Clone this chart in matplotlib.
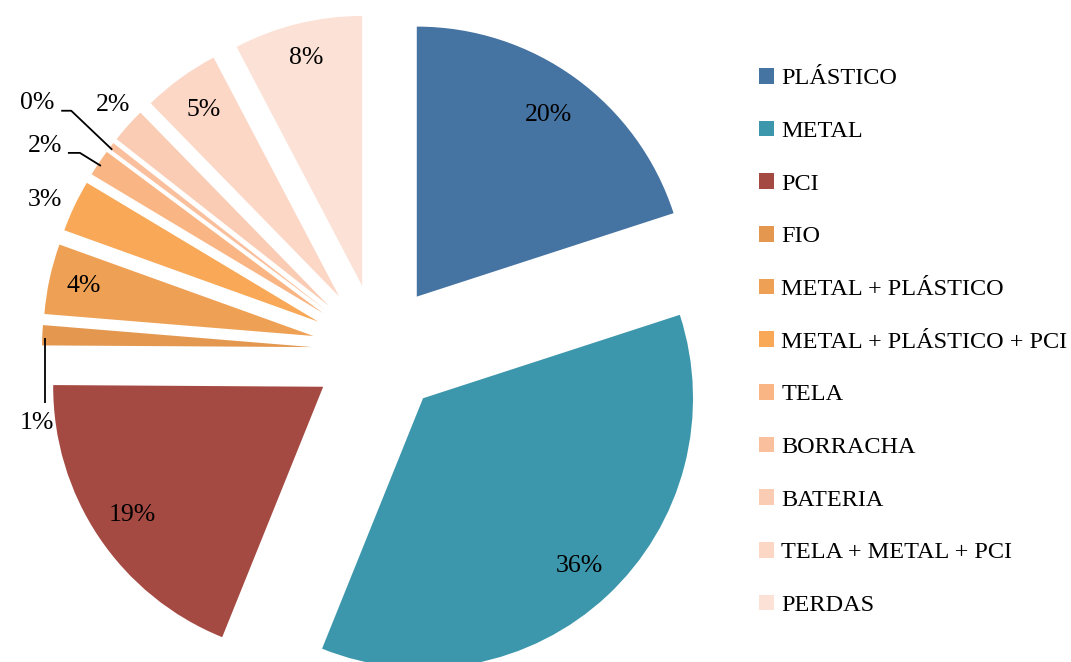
import numpy as np
import matplotlib.pyplot as plt

plt.rcParams['font.family'] = ['Liberation Serif', 'DejaVu Serif']

# data (share of each material, in %)
categories = ['PLÁSTICO', 'METAL', 'PCI', 'FIO', 'METAL + PLÁSTICO',
              'METAL + PLÁSTICO + PCI', 'TELA', 'BORRACHA', 'BATERIA',
              'TELA + METAL + PCI', 'PERDAS']
shares = [20.0, 36.1, 19.0, 1.2, 4.2, 3.1, 1.6, 0.4, 2.1, 4.6, 7.7]
pct_labels = ['20%', '36%', '19%', '1%', '4%', '3%', '2%', '0%', '2%', '5%', '8%']
colors = ['#4573A2', '#3D97AC', '#A54A43', '#E3974F', '#EEA054', '#F8A857',
          '#F9B684', '#FAC09D', '#FACCB4', '#FCD7C6', '#FCE2D6']

# label placement: inside -> pct distance, outside -> text offset from the
# wedge's outer mid point (px, y down) plus optional leader line points
inside = {0: 0.83, 1: 0.85, 2: 0.85, 4: 0.87, 9: 0.855, 10: 0.87}
outside = {
    3: ((-5, 88), [(3, 3), (3, 68)]),
    5: ((-29, -6), None),
    6: ((-54, -17), [(2, 3), (-19, -10), (-31, -10)]),
    7: ((-74, -43), [(1, 4), (-40, -35), (-50, -35)]),
    8: ((-15, -20), None),
}

W, H = 1071, 662
fig = plt.figure(figsize=(W / 100, H / 100), dpi=100)
ax = fig.add_axes([0, 0, 1, 1])

R = 270
center = (378, H - 350)
wedges, _ = ax.pie(shares, colors=colors, startangle=90, counterclock=False,
                   radius=R, center=center, explode=[66] * len(shares),
                   wedgeprops=dict(linewidth=0))

ax.set_xlim(0, W)
ax.set_ylim(0, H)
ax.set_aspect('equal')
ax.axis('off')

fs = 18.5
for i, w in enumerate(wedges):
    mid = np.deg2rad((w.theta1 + w.theta2) / 2)
    cx, cy = w.center
    if i in inside:
        d = inside[i] * R
        ax.text(cx + d * np.cos(mid), cy + d * np.sin(mid), pct_labels[i],
                ha='center', va='center', fontsize=fs, color='black')
    else:
        ox, oy = cx + R * np.cos(mid), cy + R * np.sin(mid)
        (tx, ty), leader = outside[i]
        ax.text(ox + tx, oy - ty, pct_labels[i], ha='center', va='center',
                fontsize=fs, color='black')
        if leader:
            ax.plot([ox + p[0] for p in leader], [oy - p[1] for p in leader],
                    color='black', lw=1.3, solid_capstyle='butt')

ax.legend(wedges, categories, loc='upper left',
          bbox_to_anchor=(759 / W, 1 - 68 / H), frameon=False, fontsize=17.5,
          handlelength=0.62, handleheight=0.62, handletextpad=0.3,
          labelspacing=1.285, borderpad=0, borderaxespad=0)

fig.savefig('out.png', dpi=100)
